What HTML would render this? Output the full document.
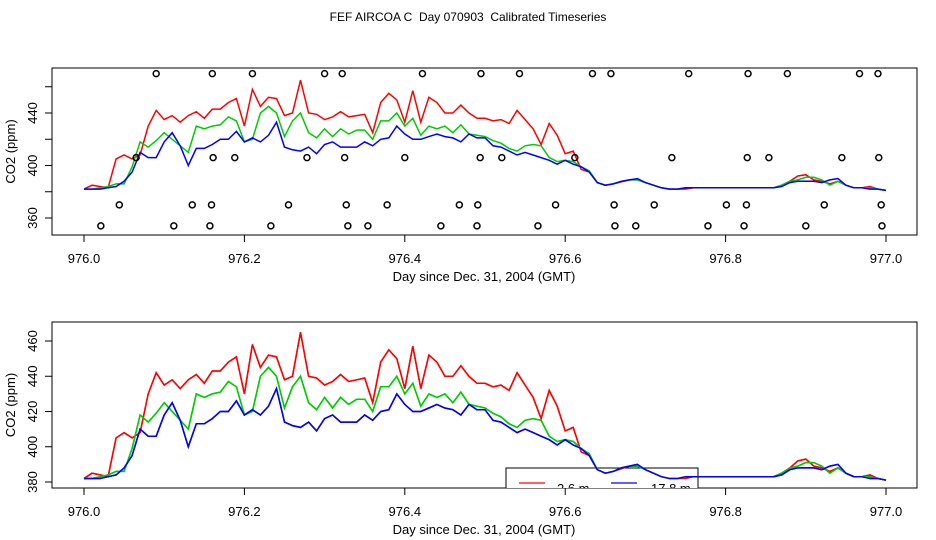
<!DOCTYPE html>
<html><head><meta charset="utf-8"><style>
body{margin:0;background:#fff;}
svg{display:block;font-family:"Liberation Sans",sans-serif;}
</style></head><body>
<svg id="chart" width="936" height="540" viewBox="0 0 936 540" xmlns="http://www.w3.org/2000/svg">
<text x="468" y="21" text-anchor="middle" font-size="12" style="white-space:pre">FEF AIRCOA C  Day 070903  Calibrated Timeseries</text>
<defs><clipPath id="clipB"><rect x="52" y="322" width="865" height="166"/></clipPath>
<clipPath id="clipT"><rect x="52" y="68" width="865" height="167"/></clipPath></defs>
</svg>
<script>
const red = [382,385,384,383,405,408,405,408,430,442,435,438,433,438,441,436,443,443,448,451,430,458,445,452,451,438,440,465,440,439,435,437,441,437,438,439,425,448,455,450,433,457,433,452,448,440,440,446,440,436,436,434,435,432,442,435,428,416,432,423,409,411,397,395,387,385,386,387.5,389,389,387,385,383,382,382,382,383,383,383,383,383,383,383,383,383,383,383,385,388,392,393,389,388,386,388,385,383,383,384,382,381];
const green = [382,382,383,384,386,386,399,418,414,419,425,420,415,410,430,428,430,431,437,434,418,420,440,445,440,422,434,440,425,421,428,422,428,424,427,427,420,434,434,440,430,436,423,430,428,430,425,431,424,423,422,419,417,413,411,415,416,415,406,403,404,403,399,396,387,385,386,388,389,389,387,385,383,382,382,383,383,383,383,383,383,383,383,383,383,383,383,385,388,389,391,391,389,385,388,385,383,383,383,382,381];
const blue = [382,382,382,383,384,388,395,410,406,406,418,425,415,400,413,413,416,420,420,426,418,421,418,423,433,414,412,411,414,409,416,418,414,414,414,418,415,420,421,430,424,420,420,422,424,422,421,418,424,421,421,415,414,411,408,410,408,406,404,401,404,401,399,395,387,385,386,388,389,390,387,385,383,382,382,383,383,383,383,383,383,383,383,383,383,383,383,384,387,388,388,388,387,389,390,385,383,383,382,382,381];
const days = Array.from({length:101},(_,i)=>976+i*0.01);
const flagDays = [976.09,976.16,976.21,976.3,976.322,976.422,976.495,976.543,976.634,976.657,976.754,976.828,976.877,976.967,976.99,
976.065,976.161,976.188,976.278,976.325,976.4,976.494,976.521,976.612,976.733,976.827,976.854,976.945,976.991,
976.044,976.135,976.159,976.255,976.327,976.378,976.468,976.491,976.588,976.661,976.711,976.801,976.826,976.923,976.994,
976.021,976.112,976.157,976.233,976.329,976.354,976.445,976.49,976.566,976.662,976.688,976.778,976.823,976.9,976.995];
const flagVals = [470,470,470,470,470,470,470,470,470,470,470,470,470,470,470,
406,406,406,406,406,406,406,406,406,406,406,406,406,406,
370,370,370,370,370,370,370,370,370,370,370,370,370,370,370,
354,354,354,354,354,354,354,354,354,354,354,354,354,354,354];
const xTicks = [976.0,976.2,976.4,976.6,976.8,977.0];
const xTickLabels = ["976.0","976.2","976.4","976.6","976.8","977.0"];
const topYTicks = [360,380,400,420,440,460];
const topYLabels = ["360","","400","","440",""];
const botYTicks = [380,400,420,440,460];
const botYLabels = ["380","400","420","440","460"];

const NS="http://www.w3.org/2000/svg";
const svg=document.getElementById('chart');
function mk(tag,attrs,parent){const e=document.createElementNS(NS,tag);for(const k in attrs)e.setAttribute(k,attrs[k]);(parent||svg).appendChild(e);return e;}
const xs=d=>84+(d-976)*802;

function panel(name,top,bottom,yOf,yt,yl,clip,flags){
  const g=mk('g',{});
  
  
  const fr=mk('rect',{x:52,y:top,width:865,height:bottom-top,fill:'none',stroke:'#000','stroke-width':1},g);
  
  
  const xa=mk('g',{},g);
  
  
  mk('line',{x1:xs(xTicks[0]),x2:xs(xTicks[xTicks.length-1]),y1:bottom,y2:bottom,stroke:'#000'},xa);
  xTicks.forEach((t,i)=>{
    mk('line',{x1:xs(t),x2:xs(t),y1:bottom,y2:bottom+7,stroke:'#000'},xa);
    const tx=mk('text',{x:xs(t),y:bottom+28,'text-anchor':'middle','font-size':13},xa);
    
    
    tx.textContent=xTickLabels[i];
  });
  const xt=mk('text',{x:484,y:bottom+46,'text-anchor':'middle','font-size':13},g);
  
  
  xt.textContent='Day since Dec. 31, 2004 (GMT)';
  const ya=mk('g',{},g);
  
  
  yt.forEach((t,i)=>{
    mk('line',{x1:45,x2:52,y1:yOf(t),y2:yOf(t),stroke:'#000'},ya);
    if(yl[i]){const tx=mk('text',{x:0,y:0,'text-anchor':'middle','font-size':13,transform:`translate(37,${yOf(t)}) rotate(-90)`},ya);
      
      
      tx.textContent=yl[i];}
  });
  const ytt=mk('text',{x:0,y:0,'text-anchor':'middle','font-size':13,transform:`translate(15,${(top+bottom)/2}) rotate(-90)`},g);
  
  
  ytt.textContent='CO2 (ppm)';
  const pg=mk('g',{'clip-path':`url(#${clip})`},g);
  [[red,'#ff0000','series-2-6m'],[green,'#00cc00','series-mid'],[blue,'#0000ff','series-17-8m']].forEach(([s,c,n])=>{
    const p=mk('polyline',{points:s.map((v,i)=>xs(days[i]).toFixed(1)+','+yOf(v).toFixed(1)).join(' '),fill:'none',stroke:c,'stroke-width':1.5},pg);
    
    
  });
  if(flags){flagDays.forEach((d,i)=>{
    const c=mk('circle',{cx:xs(d),cy:yOf(flagVals[i]),r:3,fill:'none',stroke:'#000','stroke-width':1.5},pg);
    
    
  });}
  return pg;
}
panel('top-panel',68,235,v=>218-(v-360)*1.3125,topYTicks,topYLabels,'clipT',true);
const pb=panel('bottom-panel',322,488,v=>482-(v-380)*1.7625,botYTicks,botYLabels,'clipB',false);
const lg=mk('g',{},pb);


mk('rect',{x:506,y:468,width:192,height:40,fill:'#fff',stroke:'#000'},lg);
mk('line',{x1:519,x2:545,y1:483,y2:483,stroke:'#ff0000','stroke-width':1.2},lg);
const l1=mk('text',{x:557,y:493,'font-size':13},lg);


l1.textContent='2.6 m';
mk('line',{x1:611,x2:637,y1:483,y2:483,stroke:'#0000ff','stroke-width':1.2},lg);
const l2=mk('text',{x:651,y:493,'font-size':13},lg);


l2.textContent='17.8 m';
[[red,'#ff0000'],[green,'#00cc00'],[blue,'#0000ff']].forEach(([s,c])=>{
  const p=mk('polyline',{points:s.map((v,i)=>xs(days[i]).toFixed(1)+','+(482-(v-380)*1.7625).toFixed(1)).join(' '),fill:'none',stroke:c,'stroke-width':1.5},pb);
  
  
});
</script>
</body></html>
